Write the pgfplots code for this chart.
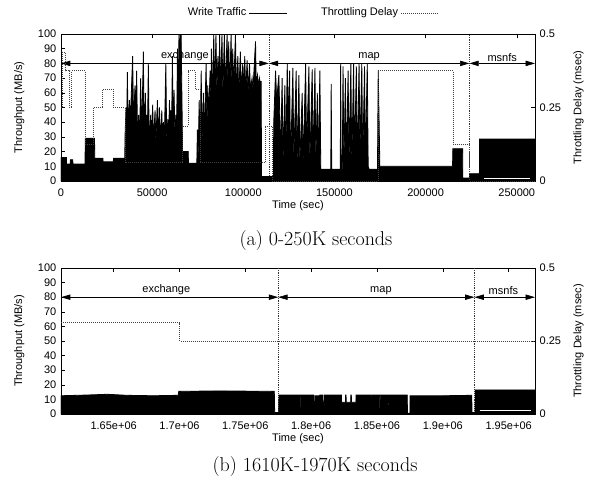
\documentclass[border=0pt]{standalone}
\usepackage{fontspec}
\setsansfont{Liberation Sans}
\usepackage{pgfplots}
\pgfplotsset{compat=1.18}
\usetikzlibrary{arrows.meta}

\pgfplotsset{
  base/.style={
    scale only axis, width=355.5pt,
    font=\sffamily\fontsize{8.25}{9.5}\selectfont,
    tick align=inside, major tick length=3pt,
    every tick/.style={black, line width=0.4pt},
    axis line style={line width=0.5pt},
    scaled x ticks=false, scaled y ticks=false,
    xticklabel style={yshift=-2.5pt},
  },
  phase/.style={black, line width=0.5pt, >={Triangle[length=7pt,width=4pt]}, <->},
  bound/.style={black!80, densely dotted, line width=0.4pt},
  traffic/.style={fill=black, draw=black, line width=0.6pt},
  delay/.style={black!75, densely dotted, line width=0.5pt},
}

\pgfplotstableread{
x y
0 0
0 16
3000 16
3000 11.5
5000 11.5
5200 14.5
6400 14.5
6600 11.5
13200 11.5
13300 29
18400 29
18500 15.5
23000 15.5
23100 13
28700 13
28800 15.5
35000 15.5
35100 30
35700 50
36000 35
36400 74
36800 38
37500 55
38000 40
39300 85
39800 40
40600 65
41000 38
41500 75
42000 28
42600 45
43100 28
43700 70
44200 30
45200 88
45600 30
46300 60
46700 28
47000 45
47400 28
47900 80
48400 26
49200 45
49600 28
50300 52
50700 27
51600 48
52000 26
52900 55
53400 27
54000 50
54500 27
55300 48
55700 26
56200 40
56700 28
57500 80
58000 27
58600 42
59000 27
59500 55
59900 28
60200 48
60600 28
61100 85
61600 30
62000 62
62500 30
63000 45
63400 32
63900 90
64300 40
64700 100
65000 70
65400 100
65900 100
66300 60
66700 20
69800 20
69900 12
74500 12
74800 35
75200 14
75800 55
76300 20
76900 75
77400 25
78100 60
78600 30
79600 80
80100 35
80500 65
81000 45
81800 75
82300 55
82500 90
83000 55
83800 100
84300 58
85000 100
85500 60
86100 85
86600 58
87000 100
87500 60
88300 100
88800 58
89600 100
90100 60
91100 100
91600 62
92000 95
92500 60
93300 100
93800 60
94200 90
94700 62
95700 100
96200 60
97000 85
97500 58
98400 88
98900 60
99700 80
100200 62
100800 85
101300 60
102100 82
102600 60
103400 80
103900 62
104800 70
105300 62
106700 95
107100 65
107800 72
108300 65
108900 70
109400 65
109800 68
110000 3
116500 3
116700 40
117700 75
118300 55
119500 72
120000 45
120400 12
121300 70
121800 12
122800 65
123300 12
124100 80
124600 40
125400 75
125900 10
127200 77
127700 15
129000 75
129500 10
130500 72
131000 12
132300 60
132800 10
134200 80
134700 20
136000 78
136500 12
137800 76
138300 10
139300 77
139800 12
140600 60
141100 10
142000 75
142500 8
148000 8
148200 66
148500 8
153200 8
153400 80
153700 8
154300 8
154700 78
155200 10
156000 70
156500 10
157500 75
158000 12
159000 80
159500 10
160500 80
161000 15
162000 78
162500 10
163500 80
164000 20
165000 80
165500 12
166500 78
167000 15
168000 80
168500 10
169000 8
173600 8
174000 75
174500 40
174900 10
214800 10
214900 22
220300 22
220400 2
224000 2
224100 5
229500 5
229600 28.5
260000 28.5
260000 0
}\trafficA

\pgfplotstableread{
x y
0 0.25
700 0.25
700 0.4375
2500 0.4375
2500 0.375
4800 0.375
4800 0.25
5800 0.25
5800 0.375
13200 0.375
13200 0.125
17700 0.125
17700 0.25
22900 0.25
22900 0.3125
28700 0.3125
28700 0.25
35100 0.25
35100 0.0625
66800 0.0625
66800 0.1875
69900 0.1875
69900 0.375
73600 0.375
73600 0.3125
76300 0.3125
76300 0.0625
112000 0.0625
112000 0.1875
115800 0.1875
115800 0
174000 0
174000 0.375
215000 0.375
215000 0.125
224000 0.125
224000 0
260000 0
}\delayA

\pgfplotstableread{
x y
1610000 0
1610000 12.5
1630000 13
1645000 13.5
1660000 12.8
1680000 12.5
1699000 12.8
1699500 15.5
1730000 15.8
1772000 15.5
1772300 1
1775300 1
1775600 13
1787000 13
1787100 3
1787700 3
1787800 13
1792000 13
1792100 4
1792600 4
1792700 13
1796000 13
1796100 2
1796500 2
1796600 13
1799000 13
1799100 5
1799500 5
1799600 13
1802000 13
1802100 3
1802800 3
1802900 12.5
1806000 12.5
1806100 4
1806400 4
1806500 13
1809000 13
1809100 6
1810000 6
1810100 13
1813000 13
1813100 3
1813500 3
1813600 13
1818000 13
1818100 4
1818500 4
1818600 13
1823000 13
1823100 8
1826000 8
1826100 13
1826500 13
1826600 8
1830000 8
1830100 13
1830500 13
1830600 8
1834000 8
1834100 13
1840000 13
1840100 4
1840500 4
1840600 13
1846000 13
1846100 5
1846500 5
1846600 13
1852000 13
1852100 3
1852400 3
1852500 13
1858000 13
1858100 6
1858600 6
1858700 13
1866000 13
1866100 4
1866500 4
1866600 13
1873000 13
1873100 0.5
1875000 0.5
1875100 12.5
1900000 12.5
1922000 12.8
1922100 1
1924500 1
1924600 16.5
1970000 16.5
1970000 0
}\trafficB

\pgfplotstableread{
x y
1610000 0.3125
1700000 0.3125
1700000 0.25
1970000 0.25
}\delayB

\begin{document}
\begin{tikzpicture}
\useasboundingbox (0,0) rectangle (442.5pt,-366.75pt);

% ---------- panel (a) ----------
\begin{axis}[base, at={(45.75pt,-135.75pt)}, anchor=south west, height=110.25pt,
  xmin=0, xmax=260000, ymin=0, ymax=100,
  xtick={0,50000,100000,150000,200000,250000},
  xticklabels={0,50000,100000,150000,200000,250000},
  ytick={0,10,20,30,40,50,60,70,80,90,100},
  yticklabels={0,10,20,30,40,50,60,70,80,90,100},
  ytick pos=left,
  xlabel={Time (sec)}, ylabel={Throughput (MB/s)},
  xlabel style={at={(axis description cs:0.5,-0.17)}, anchor=center},
  ylabel style={at={(axis description cs:-0.088,0.5)}, anchor=center},
]
\addplot[phase] coordinates {(0,80) (114000,80)};
\addplot[phase] coordinates {(114000,80) (224000,80)};
\addplot[phase] coordinates {(224000,80) (260000,80)};
\node[above, inner sep=1.5pt] at (axis cs:68000,80) {exchange};
\node[above, inner sep=1.5pt] at (axis cs:169000,80) {map};
\node[above, inner sep=1.5pt] at (axis cs:242000,80) {msnfs};
\addplot[bound] coordinates {(114000,0) (114000,100)};
\addplot[bound] coordinates {(224000,0) (224000,100)};
\addplot[traffic] table {\trafficA} \closedcycle;
\addplot[white, line width=0.5pt] coordinates {(232000,2) (257000,2)};
\end{axis}
\begin{axis}[base, at={(45.75pt,-135.75pt)}, anchor=south west, height=110.25pt,
  xmin=0, xmax=260000, ymin=0, ymax=0.5,
  axis x line=none, axis y line*=right,
  ytick={0,0.25,0.5}, yticklabels={0,0.25,0.5},
  ylabel={Throttling Delay (msec)},
  ylabel style={at={(axis description cs:1.092,0.5)}, anchor=center},
  legend style={draw=none, fill=none, at={(axis description cs:0.253,1.143)}, anchor=west,
    /tikz/every even column/.append style={column sep=23pt}},
  legend columns=2, legend plot pos=right,
  legend image code/.code={\draw[#1] (0cm,0cm) -- (1cm,0cm);},
]
\addlegendimage{black, line width=0.6pt}
\addlegendentry{Write Traffic}
\addplot[delay] table {\delayA};
\addlegendentry{Throttling Delay}
\end{axis}

\node[font=\rmfamily\fontsize{15}{18}\selectfont] at (237pt,-180.5pt) {(a) 0-250K seconds};

% ---------- panel (b) ----------
\begin{axis}[base, at={(45.75pt,-310.5pt)}, anchor=south west, height=109.5pt,
  xmin=1610000, xmax=1970000, ymin=0, ymax=100,
  xtick={1650000,1700000,1750000,1800000,1850000,1900000,1950000},
  xticklabels={1.65e+06,1.7e+06,1.75e+06,1.8e+06,1.85e+06,1.9e+06,1.95e+06},
  ytick={0,10,20,30,40,50,60,70,80,90,100},
  yticklabels={0,10,20,30,40,50,60,70,80,90,100},
  ytick pos=left,
  xlabel={Time (sec)}, ylabel={Throughput (MB/s)},
  xlabel style={at={(axis description cs:0.5,-0.171)}, anchor=center},
  ylabel style={at={(axis description cs:-0.088,0.5)}, anchor=center},
]
\addplot[phase] coordinates {(1610000,80) (1775000,80)};
\addplot[phase] coordinates {(1775000,80) (1924000,80)};
\addplot[phase] coordinates {(1924000,80) (1970000,80)};
\node[above, inner sep=1.5pt] at (axis cs:1690000,80) {exchange};
\node[above, inner sep=1.5pt] at (axis cs:1853000,80) {map};
\node[above, inner sep=1.5pt] at (axis cs:1946000,80) {msnfs};
\addplot[bound] coordinates {(1775000,0) (1775000,100)};
\addplot[bound] coordinates {(1924000,0) (1924000,100)};
\addplot[traffic] table {\trafficB} \closedcycle;
\addplot[white, line width=0.5pt] coordinates {(1928000,2.3) (1967000,2.3)};
\end{axis}
\begin{axis}[base, at={(45.75pt,-310.5pt)}, anchor=south west, height=109.5pt,
  xmin=1610000, xmax=1970000, ymin=0, ymax=0.5,
  axis x line=none, axis y line*=right,
  ytick={0,0.25,0.5}, yticklabels={0,0.25,0.5},
  ylabel={Throttling Delay (msec)},
  ylabel style={at={(axis description cs:1.092,0.5)}, anchor=center},
]
\addplot[delay] table {\delayB};
\end{axis}

\node[font=\rmfamily\fontsize{15}{18}\selectfont] at (236.25pt,-350pt) {(b) 1610K-1970K seconds};
\end{tikzpicture}
\end{document}
